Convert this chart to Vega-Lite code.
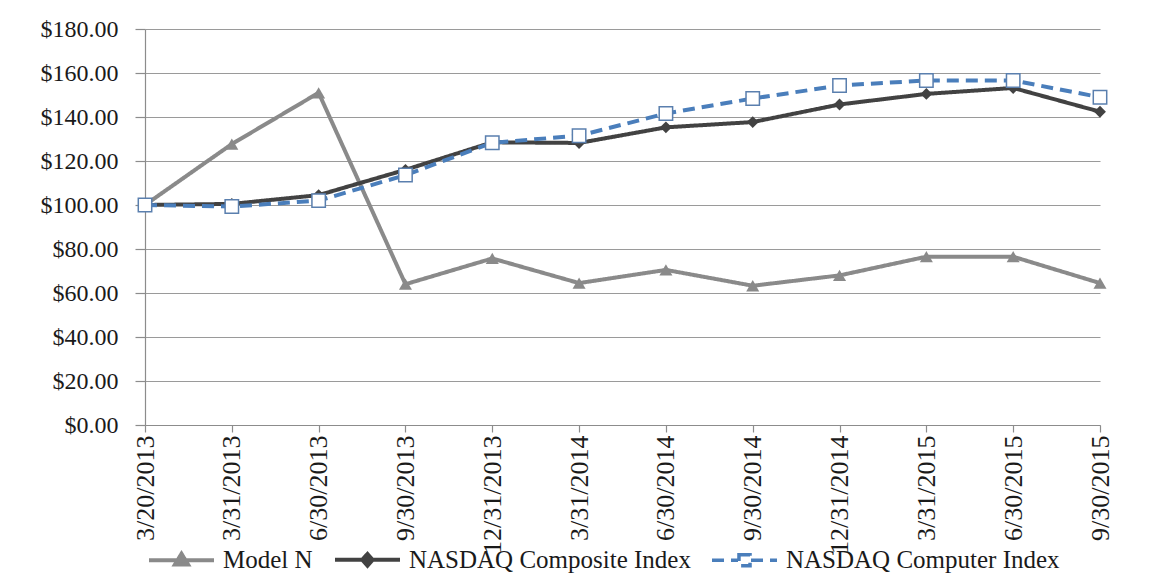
{
  "$schema": "https://vega.github.io/schema/vega-lite/v6.json",
  "autosize": "none",
  "width": 955,
  "height": 396,
  "padding": {"left": 145, "top": 29, "right": 67, "bottom": 157},
  "background": "white",
  "config": {
    "view": {"stroke": null},
    "font": "Liberation Serif",
    "axis": {"labelFont": "Liberation Serif", "labelColor": "#1a1a1a", "domainColor": "#8c8c8c", "tickColor": "#8c8c8c", "gridColor": "#9a9a9a", "gridOpacity": 1, "domainWidth": 1.2, "tickWidth": 1.2, "gridWidth": 1.2, "title": null}
  },
  "data": {"values": [
    {"date": "3/20/2013", "series": "Model N", "value": 100},
    {"date": "3/31/2013", "series": "Model N", "value": 127.7},
    {"date": "6/30/2013", "series": "Model N", "value": 151},
    {"date": "9/30/2013", "series": "Model N", "value": 64},
    {"date": "12/31/2013", "series": "Model N", "value": 75.7},
    {"date": "3/31/2014", "series": "Model N", "value": 64.5},
    {"date": "6/30/2014", "series": "Model N", "value": 70.5},
    {"date": "9/30/2014", "series": "Model N", "value": 63.3},
    {"date": "12/31/2014", "series": "Model N", "value": 68},
    {"date": "3/31/2015", "series": "Model N", "value": 76.5},
    {"date": "6/30/2015", "series": "Model N", "value": 76.5},
    {"date": "9/30/2015", "series": "Model N", "value": 64.5},
    {"date": "3/20/2013", "series": "NASDAQ Composite Index", "value": 100},
    {"date": "3/31/2013", "series": "NASDAQ Composite Index", "value": 100.5},
    {"date": "6/30/2013", "series": "NASDAQ Composite Index", "value": 104.5},
    {"date": "9/30/2013", "series": "NASDAQ Composite Index", "value": 116},
    {"date": "12/31/2013", "series": "NASDAQ Composite Index", "value": 128.5},
    {"date": "3/31/2014", "series": "NASDAQ Composite Index", "value": 128.2},
    {"date": "6/30/2014", "series": "NASDAQ Composite Index", "value": 135.3},
    {"date": "9/30/2014", "series": "NASDAQ Composite Index", "value": 137.7},
    {"date": "12/31/2014", "series": "NASDAQ Composite Index", "value": 145.7},
    {"date": "3/31/2015", "series": "NASDAQ Composite Index", "value": 150.5},
    {"date": "6/30/2015", "series": "NASDAQ Composite Index", "value": 153.2},
    {"date": "9/30/2015", "series": "NASDAQ Composite Index", "value": 142.4},
    {"date": "3/20/2013", "series": "NASDAQ Computer Index", "value": 100},
    {"date": "3/31/2013", "series": "NASDAQ Computer Index", "value": 99.3},
    {"date": "6/30/2013", "series": "NASDAQ Computer Index", "value": 102},
    {"date": "9/30/2013", "series": "NASDAQ Computer Index", "value": 113.6},
    {"date": "12/31/2013", "series": "NASDAQ Computer Index", "value": 128.3},
    {"date": "3/31/2014", "series": "NASDAQ Computer Index", "value": 131.5},
    {"date": "6/30/2014", "series": "NASDAQ Computer Index", "value": 141.6},
    {"date": "9/30/2014", "series": "NASDAQ Computer Index", "value": 148.4},
    {"date": "12/31/2014", "series": "NASDAQ Computer Index", "value": 154.3},
    {"date": "3/31/2015", "series": "NASDAQ Computer Index", "value": 156.6},
    {"date": "6/30/2015", "series": "NASDAQ Computer Index", "value": 156.6},
    {"date": "9/30/2015", "series": "NASDAQ Computer Index", "value": 149}
  ]},
  "encoding": {
    "x": {"field": "date", "type": "ordinal", "sort": null,
      "scale": {"type": "point", "padding": 0},
      "axis": {"labelAngle": -90, "labelFontSize": 26, "tickSize": 7, "labelPadding": 3, "grid": false, "labelAlign": "right", "labelBaseline": "middle"}},
    "y": {"field": "value", "type": "quantitative",
      "scale": {"domain": [0, 180], "nice": false},
      "axis": {"values": [0, 20, 40, 60, 80, 100, 120, 140, 160, 180], "format": "$.2f", "labelFontSize": 24, "tickSize": 10, "labelPadding": 17, "grid": true}}
  },
  "layer": [
    {
      "mark": {"type": "line", "strokeWidth": 4, "strokeCap": "butt", "strokeJoin": "round"},
      "encoding": {
        "color": {"field": "series", "type": "nominal",
          "scale": {"domain": ["Model N", "NASDAQ Composite Index", "NASDAQ Computer Index"], "range": ["#8a8a8a", "#424242", "#4a7ebb"]},
          "legend": {
            "orient": "none", "legendX": 24, "legendY": 518, "direction": "horizontal", "title": null,
            "padding": 0, "symbolType": "M-1,0L1,0M0,-0.2L0.2,0.13L-0.2,0.13Z", "symbolSize": 4225, "symbolStrokeWidth": 4, "labelOffset": 29, "columnPadding": 14,
            "labelFont": "Liberation Serif", "labelFontSize": 25, "labelColor": "#1a1a1a", "labelLimit": 400,
            "encode": {"symbols": {"update": {
              "shape": {"signal": "datum.value === 'Model N' ? 'M-1,0L1,0M0,-0.2L0.2,0.13L-0.2,0.13Z' : datum.value === 'NASDAQ Composite Index' ? 'M-1,0L1,0M0,-0.18L0.16,0L0,0.18L-0.16,0Z' : 'M-1,0L-0.2,0M0.2,0L1,0M-0.17,-0.17L0.17,-0.17L0.17,0.17L-0.17,0.17Z'"},
              "fill": {"signal": "datum.value === 'Model N' ? '#8a8a8a' : datum.value === 'NASDAQ Composite Index' ? '#424242' : 'white'"},
              "stroke": {"signal": "datum.value === 'Model N' ? '#8a8a8a' : datum.value === 'NASDAQ Composite Index' ? '#424242' : '#4a7ebb'"},
              "strokeDash": {"signal": "datum.value === 'NASDAQ Computer Index' ? [12, 6] : [1, 0]"},
              "strokeWidth": {"signal": "datum.value === 'NASDAQ Computer Index' ? 3.5 : 4"},
              "opacity": {"value": 1}
            }}}
          }},
        "strokeDash": {"field": "series", "type": "nominal",
          "scale": {"domain": ["Model N", "NASDAQ Composite Index", "NASDAQ Computer Index"], "range": [[1, 0], [1, 0], [12, 7]]},
          "legend": null}
      }
    },
    {
      "transform": [{"filter": "datum.series === 'Model N'"}],
      "mark": {"type": "point", "shape": "triangle-up", "filled": true, "color": "#8a8a8a", "opacity": 1, "size": 170}
    },
    {
      "transform": [{"filter": "datum.series === 'NASDAQ Composite Index'"}],
      "mark": {"type": "point", "shape": "diamond", "filled": true, "color": "#424242", "opacity": 1, "size": 140}
    },
    {
      "transform": [{"filter": "datum.series === 'NASDAQ Computer Index'"}],
      "mark": {"type": "point", "shape": "square", "filled": true, "fill": "white", "stroke": "#5a7fae", "strokeWidth": 1.5, "opacity": 1, "size": 180}
    }
  ]
}
